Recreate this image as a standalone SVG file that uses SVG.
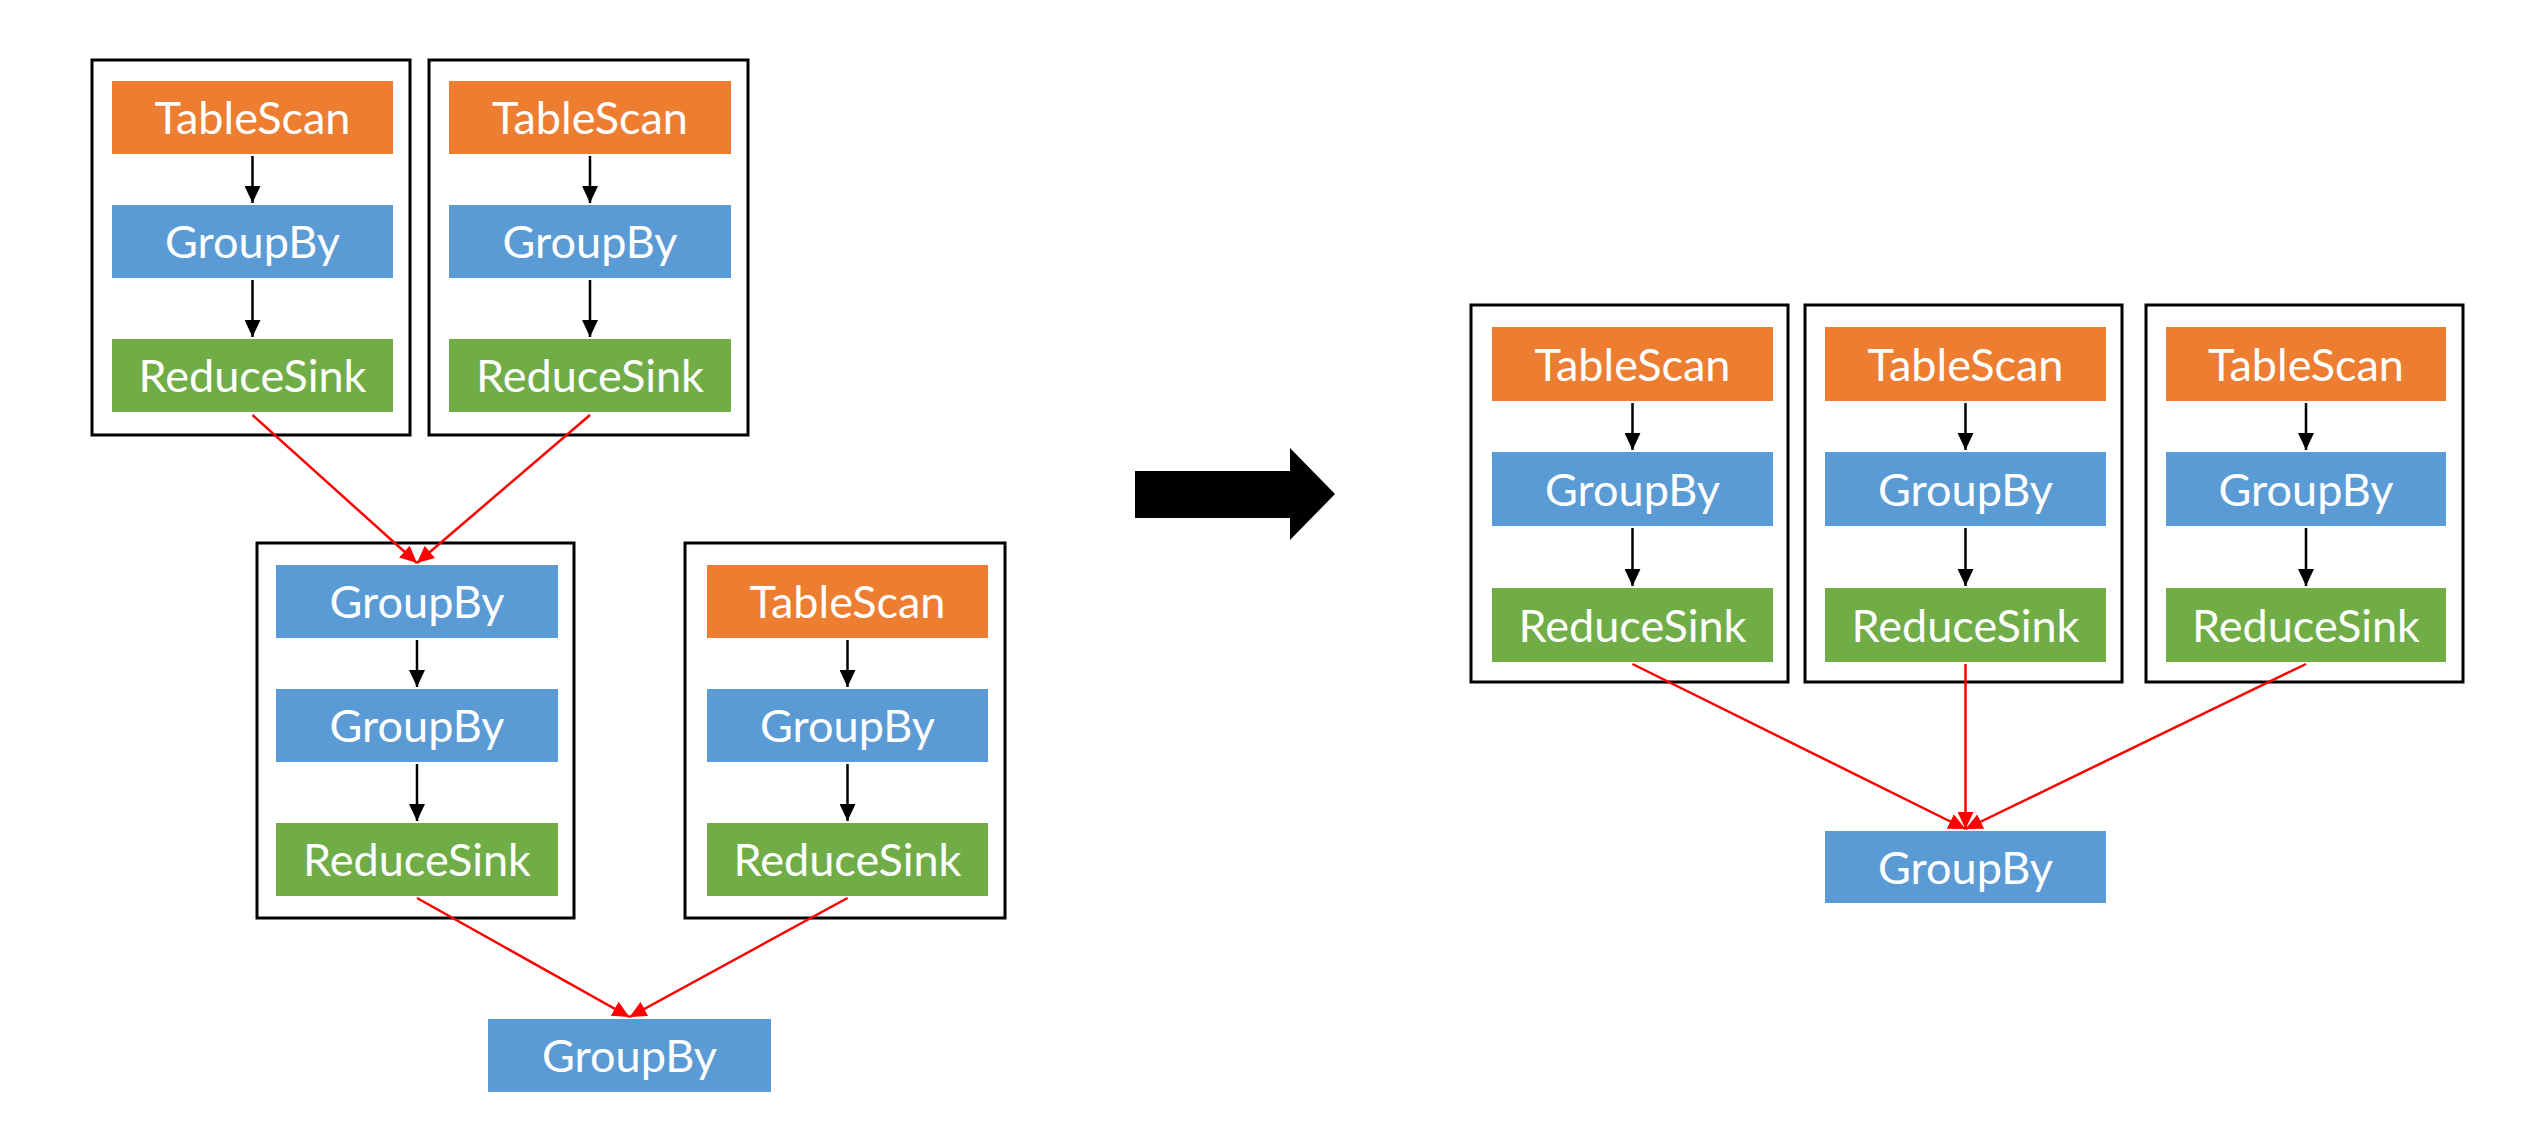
<svg xmlns="http://www.w3.org/2000/svg" width="2535" height="1145" viewBox="0 0 2535 1145">
<style>
.box{fill:none;stroke:#000;stroke-width:3}
.ts{fill:#ED7D31}
.gb{fill:#5B9BD5}
.rs{fill:#70AD47}
.lbl{font-family:Lato,"Open Sans","Liberation Sans",sans-serif;font-size:45px;fill:#fff;text-anchor:middle}
.blk{stroke:#000;stroke-width:2.5;fill:none;marker-end:url(#ab)}
.red{stroke:#FF0000;stroke-width:2.5;fill:none;marker-end:url(#ar)}
</style>
<defs>
<marker id="ab" markerUnits="userSpaceOnUse" markerWidth="17" markerHeight="16" refX="17" refY="8" orient="auto"><path d="M0,0 L17,8 L0,16 z" fill="#000"/></marker>
<marker id="ar" markerUnits="userSpaceOnUse" markerWidth="17" markerHeight="16" refX="17" refY="8" orient="auto"><path d="M0,0 L17,8 L0,16 z" fill="#FF0000"/></marker>
</defs>
<rect width="2535" height="1145" fill="#fff"/>

<g id="containers">
<rect id="box1" class="box" x="92" y="60" width="318" height="375"/>
<rect id="box2" class="box" x="429" y="60" width="319" height="375"/>
<rect id="box3" class="box" x="257" y="543" width="317" height="375"/>
<rect id="box4" class="box" x="685" y="543" width="320" height="375"/>
<rect id="box5" class="box" x="1471" y="305" width="317" height="377"/>
<rect id="box6" class="box" x="1805" y="305" width="317" height="377"/>
<rect id="box7" class="box" x="2146" y="305" width="317" height="377"/>
</g>

<g id="bigarrow">
<polygon points="1135,471 1290,471 1290,448 1335,494 1290,540 1290,518 1135,518" fill="#000"/>
</g>

<g id="n_ts1"><rect class="ts" x="112" y="81" width="281" height="73"/><text class="lbl" x="252.5" y="134">TableScan</text></g>
<g id="n_gb1"><rect class="gb" x="112" y="205" width="281" height="73"/><text class="lbl" x="252.5" y="258">GroupBy</text></g>
<g id="n_rs1"><rect class="rs" x="112" y="339" width="281" height="73"/><text class="lbl" x="252.5" y="392">ReduceSink</text></g>

<g id="n_ts2"><rect class="ts" x="449" y="81" width="282" height="73"/><text class="lbl" x="590" y="134">TableScan</text></g>
<g id="n_gb2"><rect class="gb" x="449" y="205" width="282" height="73"/><text class="lbl" x="590" y="258">GroupBy</text></g>
<g id="n_rs2"><rect class="rs" x="449" y="339" width="282" height="73"/><text class="lbl" x="590" y="392">ReduceSink</text></g>

<g id="n_gb3a"><rect class="gb" x="276" y="565" width="282" height="73"/><text class="lbl" x="417" y="618">GroupBy</text></g>
<g id="n_gb3b"><rect class="gb" x="276" y="689" width="282" height="73"/><text class="lbl" x="417" y="742">GroupBy</text></g>
<g id="n_rs3"><rect class="rs" x="276" y="823" width="282" height="73"/><text class="lbl" x="417" y="876">ReduceSink</text></g>

<g id="n_ts4"><rect class="ts" x="707" y="565" width="281" height="73"/><text class="lbl" x="847.5" y="618">TableScan</text></g>
<g id="n_gb4"><rect class="gb" x="707" y="689" width="281" height="73"/><text class="lbl" x="847.5" y="742">GroupBy</text></g>
<g id="n_rs4"><rect class="rs" x="707" y="823" width="281" height="73"/><text class="lbl" x="847.5" y="876">ReduceSink</text></g>

<g id="n_gbL"><rect class="gb" x="488" y="1019" width="283" height="73"/><text class="lbl" x="629.5" y="1072">GroupBy</text></g>

<g id="n_ts5"><rect class="ts" x="1492" y="327" width="281" height="74"/><text class="lbl" x="1632.5" y="381">TableScan</text></g>
<g id="n_gb5"><rect class="gb" x="1492" y="452" width="281" height="74"/><text class="lbl" x="1632.5" y="506">GroupBy</text></g>
<g id="n_rs5"><rect class="rs" x="1492" y="588" width="281" height="74"/><text class="lbl" x="1632.5" y="642">ReduceSink</text></g>

<g id="n_ts6"><rect class="ts" x="1825" y="327" width="281" height="74"/><text class="lbl" x="1965.5" y="381">TableScan</text></g>
<g id="n_gb6"><rect class="gb" x="1825" y="452" width="281" height="74"/><text class="lbl" x="1965.5" y="506">GroupBy</text></g>
<g id="n_rs6"><rect class="rs" x="1825" y="588" width="281" height="74"/><text class="lbl" x="1965.5" y="642">ReduceSink</text></g>

<g id="n_ts7"><rect class="ts" x="2166" y="327" width="280" height="74"/><text class="lbl" x="2306" y="381">TableScan</text></g>
<g id="n_gb7"><rect class="gb" x="2166" y="452" width="280" height="74"/><text class="lbl" x="2306" y="506">GroupBy</text></g>
<g id="n_rs7"><rect class="rs" x="2166" y="588" width="280" height="74"/><text class="lbl" x="2306" y="642">ReduceSink</text></g>

<g id="n_gbR"><rect class="gb" x="1825" y="831" width="281" height="72"/><text class="lbl" x="1965.5" y="884">GroupBy</text></g>

<g id="connectors">
<line class="blk" x1="252.5" y1="156" x2="252.5" y2="203"/>
<line class="blk" x1="252.5" y1="280" x2="252.5" y2="337"/>
<line class="blk" x1="590" y1="156" x2="590" y2="203"/>
<line class="blk" x1="590" y1="280" x2="590" y2="337"/>
<line class="blk" x1="417" y1="640" x2="417" y2="687"/>
<line class="blk" x1="417" y1="764" x2="417" y2="821"/>
<line class="blk" x1="847.5" y1="640" x2="847.5" y2="687"/>
<line class="blk" x1="847.5" y1="764" x2="847.5" y2="821"/>
<line class="blk" x1="1632.5" y1="403" x2="1632.5" y2="450"/>
<line class="blk" x1="1632.5" y1="528" x2="1632.5" y2="586"/>
<line class="blk" x1="1965.5" y1="403" x2="1965.5" y2="450"/>
<line class="blk" x1="1965.5" y1="528" x2="1965.5" y2="586"/>
<line class="blk" x1="2306" y1="403" x2="2306" y2="450"/>
<line class="blk" x1="2306" y1="528" x2="2306" y2="586"/>

<line class="red" x1="252.5" y1="415" x2="417" y2="563"/>
<line class="red" x1="590" y1="415" x2="417" y2="563"/>
<line class="red" x1="417" y1="898" x2="629.5" y2="1017"/>
<line class="red" x1="847.5" y1="898" x2="629.5" y2="1017"/>
<line class="red" x1="1632.5" y1="664" x2="1965.5" y2="829"/>
<line class="red" x1="1965.5" y1="664" x2="1965.5" y2="829"/>
<line class="red" x1="2306" y1="664" x2="1965.5" y2="829"/>
</g>
</svg>
